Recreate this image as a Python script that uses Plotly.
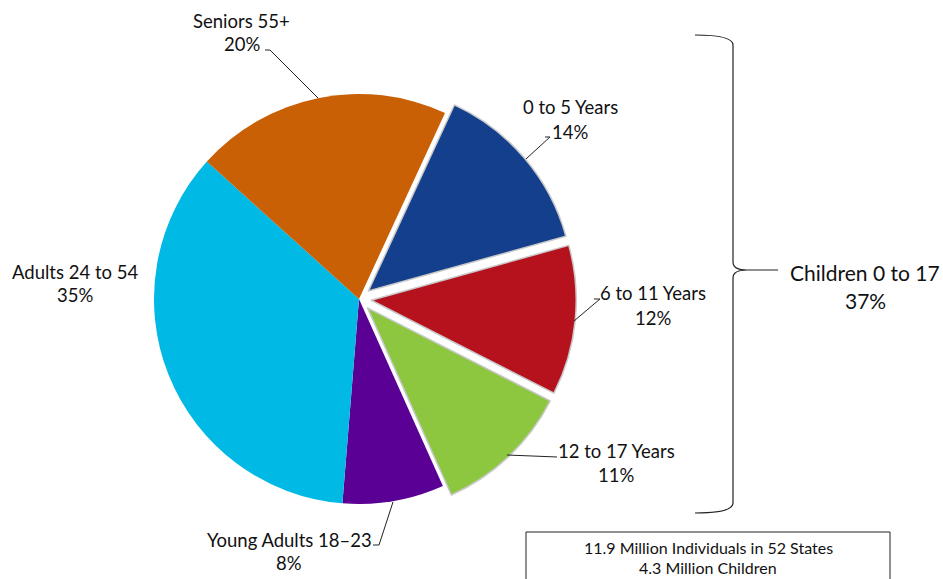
import plotly.graph_objects as go

# ---- data ----
labels = ["0 to 5 Years", "6 to 11 Years", "12 to 17 Years",
          "Young Adults 18–23", "Adults 24 to 54", "Seniors 55+"]
values = [13.8, 11.8, 10.8, 8.0, 35.4, 20.2]
colors = ["#143F8C", "#B5121E", "#8DC63F", "#5B0095", "#00B9E4", "#C96005"]
pulls = [0.06, 0.06, 0.06, 0, 0, 0]
group_label = "Children 0 to 17"
group_value = 37
note_lines = ["11.9 Million Individuals in 52 States", "4.3 Million Children"]

W, H = 943, 579
FONT = "Lato, 'Open Sans', sans-serif"

def px(x):
    return x / W

def py(y):
    return 1 - y / H

# pie geometry (pixels)
cx, cy, R = 359, 299, 205
D = 2 * R * (1 + max(pulls))

fig = go.Figure(go.Pie(
    labels=labels, values=values, sort=False, direction="clockwise",
    rotation=24.8, pull=pulls, textinfo="none", hoverinfo="label+percent",
    marker=dict(colors=colors,
                line=dict(color=["#c8c8c8", "#c8c8c8", "#c8c8c8", "rgba(0,0,0,0)", "rgba(0,0,0,0)", "rgba(0,0,0,0)"],
                          width=[1.5, 1.5, 1.5, 0, 0, 0])),
    domain=dict(x=[px(cx - D / 2), px(cx + D / 2)], y=[py(cy + D / 2), py(cy - D / 2)]),
    showlegend=False,
))

# label placement (pixel centers of the two text lines) and leader paths
label_pos = [(570, 107, 132), (653, 293, 318), (616, 451, 475),
             (289, 540, 563), (75, 272, 295), (242, 21, 44)]
leader_paths = [
    [(545, 137), (550, 137), (526, 159)],
    [(594, 299), (600, 299), (574, 321)],
    [(557, 457), (507, 455)],
    [(373, 545), (379, 545), (393, 502)],
    None,
    [(265, 50), (270, 50), (318, 98)],
]

annotations = []
shapes = []
for lab, val, (x, y1, y2), path in zip(labels, values, label_pos, leader_paths):
    annotations.append(dict(x=px(x), y=py(y1), xref="paper", yref="paper", text=lab,
                            showarrow=False, xanchor="center", yanchor="middle",
                            font=dict(family=FONT, size=18.5, color="#111111")))
    annotations.append(dict(x=px(x), y=py(y2), xref="paper", yref="paper", text=f"{round(val)}%",
                            showarrow=False, xanchor="center", yanchor="middle",
                            font=dict(family=FONT, size=18.5, color="#111111")))
    if path:
        d = "M " + " L ".join(f"{px(a):.5f},{py(b):.5f}" for a, b in path)
        shapes.append(dict(type="path", xref="paper", yref="paper", path=d,
                           line=dict(color="#222222", width=1)))

# brace for children group
bx, top, bot, mid = 733, 35, 513, 270
brace = (f"M {px(695)},{py(top)} Q {px(bx)},{py(top)} {px(bx)},{py(top + 10)} "
         f"L {px(bx)},{py(mid - 8)} Q {px(bx)},{py(mid)} {px(bx + 14)},{py(mid)} "
         f"L {px(778)},{py(mid)} "
         f"M {px(bx + 14)},{py(mid)} Q {px(bx)},{py(mid)} {px(bx)},{py(mid + 8)} "
         f"L {px(bx)},{py(bot - 10)} Q {px(bx)},{py(bot)} {px(695)},{py(bot)}")
shapes.append(dict(type="path", xref="paper", yref="paper", path=brace,
                   line=dict(color="#222222", width=1.2)))

annotations.append(dict(x=px(865), y=py(272), xref="paper", yref="paper", text=group_label,
                        showarrow=False, xanchor="center", yanchor="middle",
                        font=dict(family=FONT, size=21, color="#111111")))
annotations.append(dict(x=px(865), y=py(300), xref="paper", yref="paper", text=f"{group_value}%",
                        showarrow=False, xanchor="center", yanchor="middle",
                        font=dict(family=FONT, size=21, color="#111111")))

# note box
shapes.append(dict(type="rect", xref="paper", yref="paper",
                   x0=px(526), x1=px(890), y0=py(532), y1=py(600),
                   line=dict(color="#222222", width=1), fillcolor="white", layer="below"))
for yy, t in zip([547, 567], note_lines):
    annotations.append(dict(x=px(708), y=py(yy), xref="paper", yref="paper", text=t,
                            showarrow=False, xanchor="center", yanchor="middle",
                            font=dict(family=FONT, size=16, color="#111111")))

fig.update_layout(width=W, height=H, margin=dict(l=0, r=0, t=0, b=0),
                  paper_bgcolor="white", plot_bgcolor="white",
                  annotations=annotations, shapes=shapes)

fig.write_html("out.html", config={"displayModeBar": False},
               post_script="document.body.style.margin='0';document.body.style.overflow='hidden';")
